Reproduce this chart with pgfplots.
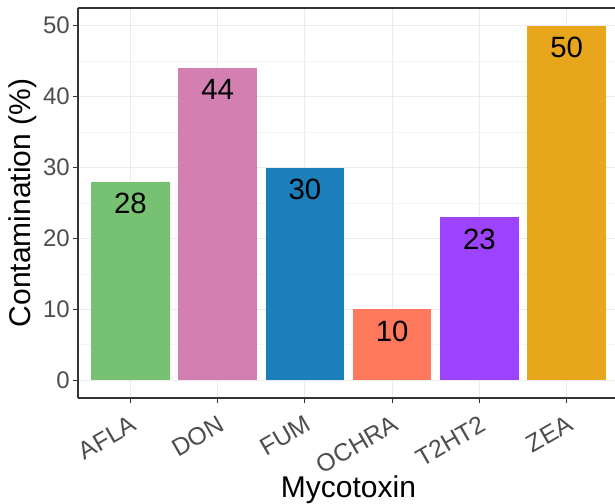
\documentclass[border=0pt]{standalone}
\usepackage{pgfplots}
\pgfplotsset{compat=1.18}
\usepackage{fontspec}
\setmainfont{Liberation Sans}
\definecolor{cafla}{HTML}{77C272}
\definecolor{cdon}{HTML}{D37FB2}
\definecolor{cfum}{HTML}{1A7FBA}
\definecolor{cochra}{HTML}{FE795B}
\definecolor{ct2}{HTML}{9D43FD}
\definecolor{czea}{HTML}{E8A61C}
\definecolor{gridmaj}{HTML}{EBEBEB}
\definecolor{gridmin}{HTML}{F4F4F4}
\definecolor{ticktext}{HTML}{4D4D4D}
\definecolor{frame}{HTML}{333333}
\begin{document}
\begin{tikzpicture}
\begin{axis}[
  scale only axis,
  width=405.75pt, height=292.5pt,
  xmin=0.4, xmax=6.6,
  ymin=-2.5, ymax=52.5,
  axis x line*=bottom, axis y line*=left,
  axis line style={frame, line width=0.8pt},
  x axis line style={-}, y axis line style={-},
  xtick={1,2,3,4,5,6},
  xticklabels={AFLA,DON,FUM,OCHRA,T2HT2,ZEA},
  ytick={0,10,20,30,40,50},
  minor ytick={5,15,25,35,45},
  minor tick length=0pt,
  tick align=outside,
  tick pos=left,
  major tick length=4pt,
  every tick/.style={frame, line width=0.8pt},
  grid=both,
  major grid style={gridmaj, line width=0.8pt},
  minor grid style={gridmin, line width=0.5pt},
  /pgf/number format/assume math mode=true,
  ticklabel style={font=\fontsize{18}{20}\selectfont, text=ticktext},
  xticklabel style={font=\fontsize{18.5}{20}\selectfont, rotate=30, anchor=north east, inner sep=1pt, yshift=-6pt, xshift=-3.5pt},
  yticklabel style={inner sep=2pt},
  xlabel={Mycotoxin},
  ylabel={Contamination (\%)},
  label style={font=\fontsize{22.5}{24}\selectfont},
  xlabel style={at={(rel axis cs:0.5,0)}, anchor=center, yshift=-69pt},
  ylabel style={yshift=-1pt},
  ybar, bar width=0.9, bar shift=0pt,
  nodes near coords,
  every node near coord/.append style={anchor=north, yshift=-5pt, font=\fontsize{22}{24}\selectfont, text=black},
  clip=false,
]
\addplot[draw=none, fill=cafla] coordinates {(1,28)};
\addplot[draw=none, fill=cdon] coordinates {(2,44)};
\addplot[draw=none, fill=cfum] coordinates {(3,30)};
\addplot[draw=none, fill=cochra] coordinates {(4,10)};
\addplot[draw=none, fill=ct2] coordinates {(5,23)};
\addplot[draw=none, fill=czea] coordinates {(6,50)};
\draw[frame, line width=0.8pt] (rel axis cs:0,1) -- (rel axis cs:1,1);
\end{axis}
\pgfresetboundingbox
\path (current axis.south west) ++(-58.5pt,-79.5pt) rectangle ++(461.25pt,378pt);
\end{tikzpicture}
\end{document}
